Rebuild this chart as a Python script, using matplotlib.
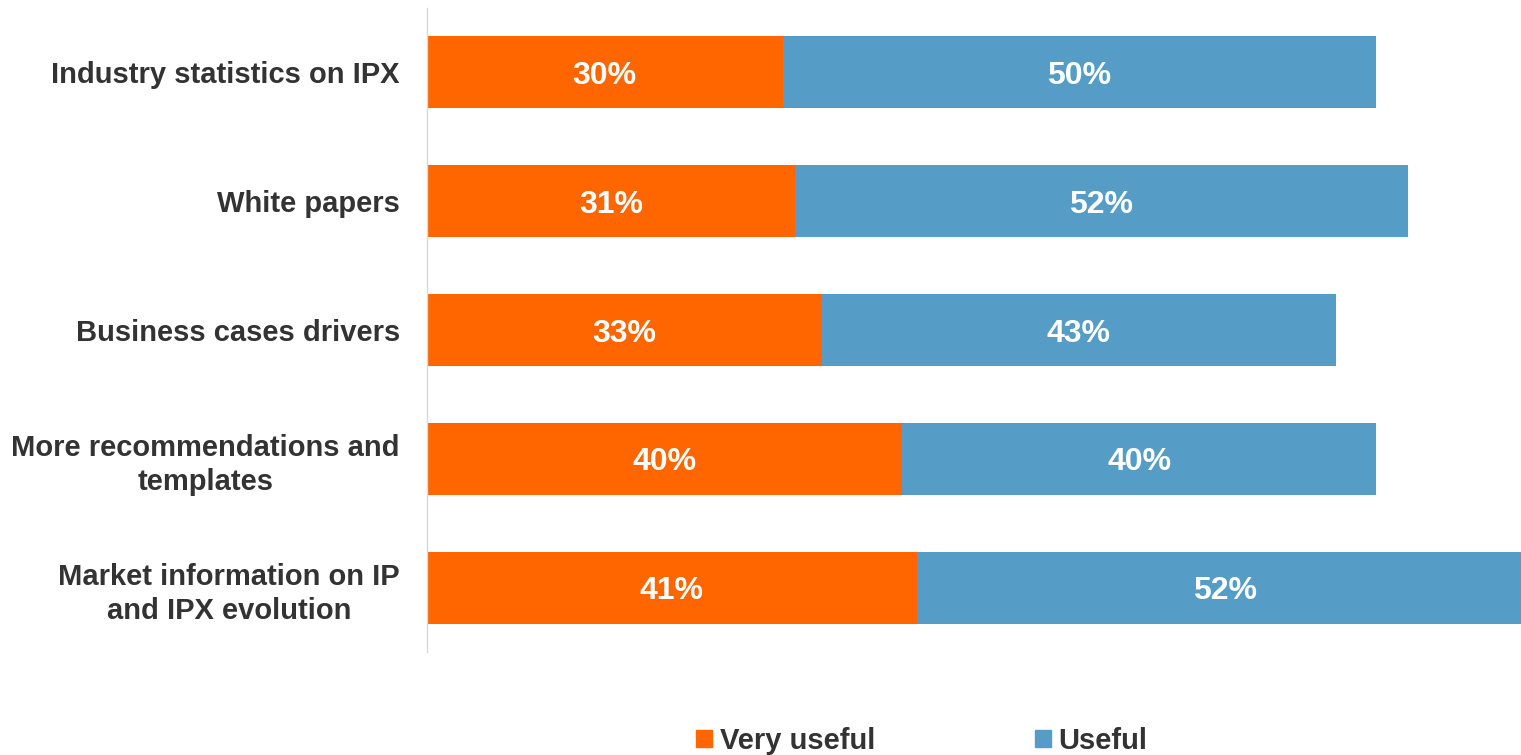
import matplotlib.pyplot as plt
from matplotlib.patches import Patch

plt.rcParams['font.family'] = ['Liberation Sans', 'DejaVu Sans']

categories = ["Industry statistics on IPX", "White papers", "Business cases drivers",
              "More recommendations and\ntemplates", "Market information on IP\nand IPX evolution"]
very_useful = [30.0, 31.05, 33.3, 40.1, 41.35]
useful = [50.1, 51.7, 43.4, 40.0, 52.0]
series_names = ["Very useful", "Useful"]

c_orange = "#FF6600"
c_blue = "#559DC6"
text_c = "#333333"

fig = plt.figure(figsize=(15.21, 7.55), dpi=100)
ax = fig.add_axes([427/1521, 1-652/755, 1-427/1521, 644/755])

y = list(range(len(categories)))
h = 0.56
ax.barh(y, very_useful, height=h, color=c_orange)
ax.barh(y, useful, left=very_useful, height=h, color=c_blue)

xmax = (1521-427)/11.85
ax.set_xlim(0, xmax)
ax.set_ylim(len(categories)-0.5, -0.5)

for i, (v, u) in enumerate(zip(very_useful, useful)):
    ax.text(v/2, i, f"{round(v)}%", ha='center', va='center_baseline', color='white',
            fontsize=23, fontweight='bold')
    ax.text(v + u/2, i, f"{round(u)}%", ha='center', va='center_baseline', color='white',
            fontsize=23, fontweight='bold')

ax.set_yticks(y)
ax.set_yticklabels(categories, fontsize=21, fontweight='bold', color=text_c,
                   multialignment='center', linespacing=1.3)
ax.tick_params(axis='y', length=0, pad=19.5)
ax.set_xticks([])
for s in ['top', 'right', 'bottom']:
    ax.spines[s].set_visible(False)
ax.spines['left'].set_color('#D9D9D9')
ax.spines['left'].set_linewidth(1)

handles = [Patch(color=c_orange, label=series_names[0]),
           Patch(color=c_blue, label=series_names[1])]
leg = fig.legend(handles=handles, loc='center', bbox_to_anchor=(922/1521, 1-741/755),
                 ncol=2, frameon=False, handlelength=0.55, handleheight=0.55,
                 handletextpad=0.25, columnspacing=5.5, borderpad=0, borderaxespad=0,
                 prop={'size': 21, 'weight': 'bold'})
for t in leg.get_texts():
    t.set_color(text_c)

fig.savefig("out.png", dpi=100)
